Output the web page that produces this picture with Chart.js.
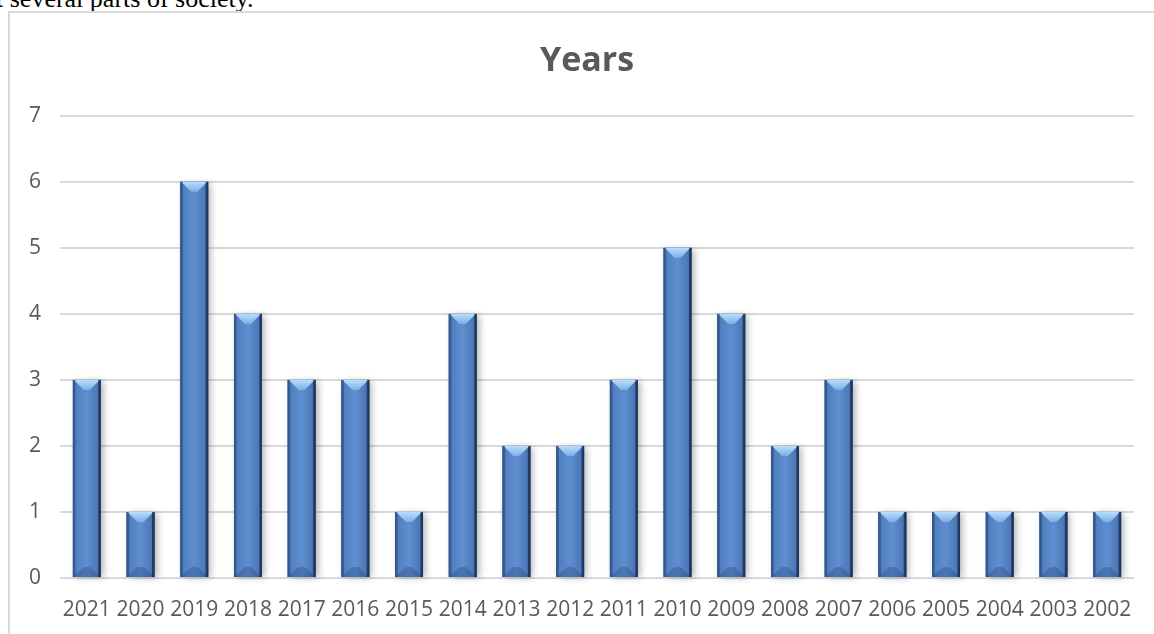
<!DOCTYPE html>
<html>
<head>
<meta charset="utf-8">
<script src="https://cdn.jsdelivr.net/npm/chart.js@4.4.1/dist/chart.umd.min.js"></script>
<style>
  html, body { margin: 0; padding: 0; background: #fff; overflow: hidden; }
  body { width: 1154px; height: 634px; position: relative; }
  .doc-text {
    position: absolute; left: -4px; top: -14px;
    font-family: "Liberation Serif", serif; font-size: 26px; line-height: 26px;
    color: #000; white-space: nowrap;
  }
  .frame {
    position: absolute; left: 8px; top: 11px; width: 1300px; height: 800px;
    border: 2px solid #d9d9d9;
  }
  #wrap { position: absolute; left: 0; top: 0; width: 1154px; height: 634px; }
</style>
</head>
<body>
<div class="doc-text">t several parts of society.</div>
<div class="frame"></div>
<div id="wrap"><canvas id="yearsChart"></canvas></div>
<script>
// chart data
const years = ['2021', '2020', '2019', '2018', '2017', '2016', '2015', '2014', '2013', '2012',
               '2011', '2010', '2009', '2008', '2007', '2006', '2005', '2004', '2003', '2002'];
const counts = [3, 1, 6, 4, 3, 3, 1, 4, 2, 2, 3, 5, 4, 2, 3, 1, 1, 1, 1, 1];
const yTicks = [0, 1, 2, 3, 4, 5, 6, 7];

const labelColor = '#595959';

// soft shadow behind each bar
const barShadow = {
  id: 'barShadow',
  beforeDatasetsDraw(chart) {
    const ctx = chart.ctx;
    chart.getDatasetMeta(0).data.forEach(bar => {
      const { x, y, base, width } = bar.getProps(['x', 'y', 'base', 'width'], true);
      ctx.save();
      ctx.shadowColor = 'rgba(0,0,0,0.3)';
      ctx.shadowBlur = 7;
      ctx.shadowOffsetX = 3;
      ctx.shadowOffsetY = 1;
      ctx.fillStyle = '#4a74b0';
      ctx.fillRect(x - width / 2, y, width, base - y);
      ctx.restore();
    });
  }
};

// excel-like bevel on top of the plain bars
const barBevel = {
  id: 'barBevel',
  afterDatasetsDraw(chart) {
    const ctx = chart.ctx;
    chart.getDatasetMeta(0).data.forEach(bar => {
      const { x, y, base, width } = bar.getProps(['x', 'y', 'base', 'width'], true);
      const l = x - width / 2, r = x + width / 2, t = y, b = base;
      const bev = Math.min(10, (b - t) / 2);

      const g = ctx.createLinearGradient(l, 0, r, 0);
      g.addColorStop(0, '#3d629c');
      g.addColorStop(0.12, '#5080c0');
      g.addColorStop(0.5, '#5f8fd1');
      g.addColorStop(0.88, '#4b78b6');
      g.addColorStop(1, '#2b4676');
      ctx.save();
      ctx.fillStyle = g;
      ctx.fillRect(l, t, width, b - t);

      // top light facet
      const tg = ctx.createLinearGradient(0, t, 0, t + bev);
      tg.addColorStop(0, '#b9defb');
      tg.addColorStop(1, '#7cafe7');
      ctx.fillStyle = tg;
      ctx.beginPath();
      ctx.moveTo(l + 1, t);
      ctx.lineTo(r - 1, t);
      ctx.lineTo(x + 3, t + bev);
      ctx.lineTo(x - 3, t + bev);
      ctx.closePath();
      ctx.fill();

      // bottom dark facet
      ctx.fillStyle = 'rgba(30,55,100,0.28)';
      ctx.beginPath();
      ctx.moveTo(l, b);
      ctx.lineTo(r, b);
      ctx.lineTo(x + 3, b - bev);
      ctx.lineTo(x - 3, b - bev);
      ctx.closePath();
      ctx.fill();

      // side facets
      ctx.fillStyle = 'rgba(40,70,120,0.5)';
      ctx.fillRect(l, t, 2.5, b - t);
      ctx.fillStyle = 'rgba(20,35,65,0.6)';
      ctx.fillRect(r - 2.5, t, 2.5, b - t);
      ctx.restore();
    });
  }
};

// move the title to the centre of the original chart frame
const titleShift = {
  id: 'titleShift',
  afterLayout(chart) {
    if (chart.titleBlock) {
      chart.titleBlock.left += 20;
      chart.titleBlock.right += 20;
    }
  }
};

const ctx = document.getElementById('yearsChart').getContext('2d');
new Chart(ctx, {
  type: 'bar',
  data: {
    labels: years,
    datasets: [{
      data: counts,
      backgroundColor: '#4f81bd',
      borderWidth: 0,
      barPercentage: 0.52,
      categoryPercentage: 1
    }]
  },
  options: {
    responsive: true,
    maintainAspectRatio: false,
    animation: false,
    layout: { padding: { left: 0, right: 20, top: 0, bottom: 11 } },
    plugins: {
      legend: { display: false },
      tooltip: { enabled: false },
      title: {
        display: true,
        text: 'Years',
        color: labelColor,
        font: { family: 'Open Sans', size: 34, weight: 'bold' },
        padding: { top: 41, bottom: 34 }
      }
    },
    scales: {
      x: {
        afterFit(scale) { scale.height = 45; },
        grid: { display: false, drawTicks: false },
        border: { display: false },
        ticks: {
          color: labelColor,
          font: { family: 'Open Sans', size: 21 },
          padding: 19,
          maxRotation: 0,
          autoSkip: false
        }
      },
      y: {
        min: yTicks[0],
        max: yTicks[yTicks.length - 1],
        afterFit(scale) { scale.width = 60; },
        afterBuildTicks(scale) { scale.ticks = yTicks.map(v => ({ value: v })); },
        grid: { color: '#d9d9d9', lineWidth: 2, drawTicks: false },
        border: { display: false },
        ticks: {
          color: labelColor,
          font: { family: 'Open Sans', size: 21 },
          padding: 19
        }
      }
    }
  },
  plugins: [barShadow, barBevel, titleShift]
});
</script>
</body>
</html>
